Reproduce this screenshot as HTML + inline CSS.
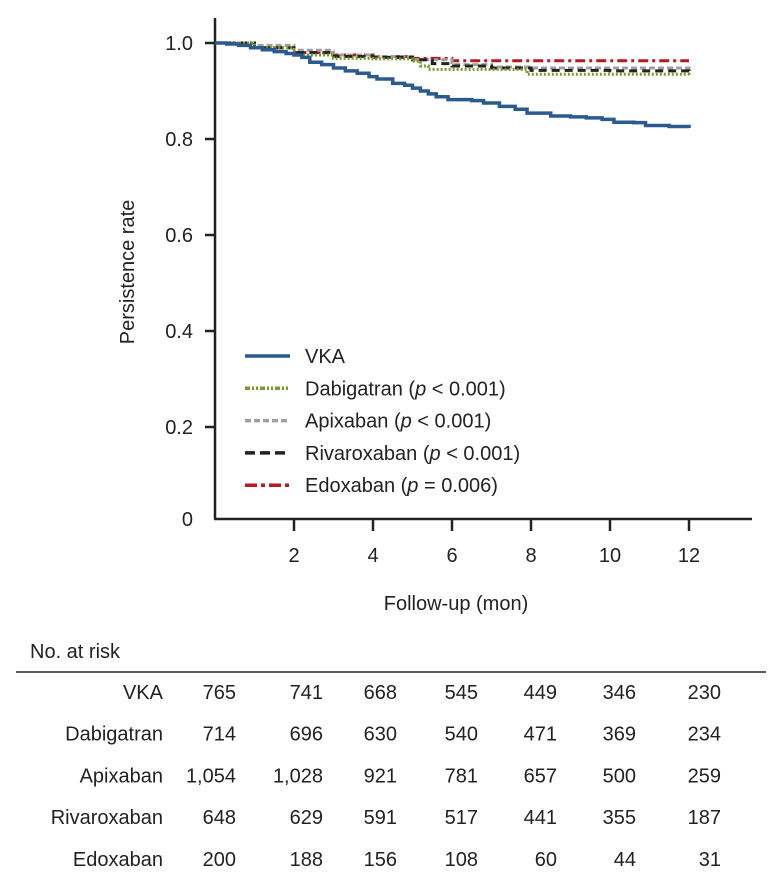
<!DOCTYPE html>
<html><head><meta charset="utf-8"><style>
body{margin:0;background:#fff;width:782px;height:892px;overflow:hidden;font-family:"Liberation Sans",sans-serif;}
svg{position:absolute;left:0;top:0}
text{font-family:"Liberation Sans",sans-serif;fill:#222}
</style></head><body>
<svg id="chart" width="782" height="892"></svg>
<script>
const xTicks=[2,4,6,8,10,12];
const yTicks=[0,0.2,0.4,0.6,0.8,1.0];
const yTickLabels=["0","0.2","0.4","0.6","0.8","1.0"];
const vkaM=[0,0.3,0.6,0.9,1.2,1.5,1.8,2.0,2.2,2.4,2.7,3.0,3.3,3.6,3.9,4.1,4.5,4.8,5.0,5.2,5.4,5.6,5.9,6.5,6.8,7.2,7.6,7.9,8.5,9.0,9.4,9.8,10.1,10.6,10.9,11.5,12];
const vkaV=[1,0.998,0.995,0.99,0.986,0.982,0.978,0.975,0.97,0.96,0.955,0.948,0.942,0.937,0.93,0.925,0.916,0.912,0.906,0.9,0.894,0.888,0.882,0.88,0.875,0.868,0.862,0.854,0.848,0.846,0.844,0.841,0.835,0.834,0.828,0.826,0.823];
const dabM=[0,1,2,3,4,5,5.2,5.4,7.9,12];
const dabV=[1,0.99,0.975,0.968,0.967,0.962,0.952,0.945,0.935,0.932];
const apiM=[0,1,2,3,4,5,6,7,8,12];
const apiV=[1,0.995,0.985,0.975,0.972,0.965,0.955,0.95,0.948,0.945];
const rivM=[0,1,2,3,4,5,5.5,6,7,8,10,12];
const rivV=[1,0.99,0.98,0.972,0.97,0.965,0.957,0.952,0.948,0.943,0.942,0.937];
const edoM=[0,1,2,3,4,5,6,12];
const edoV=[1,0.99,0.98,0.975,0.972,0.968,0.963,0.963];
const riskRows=["VKA","Dabigatran","Apixaban","Rivaroxaban","Edoxaban"];
const riskVKA=["765","741","668","545","449","346","230"];
const riskDab=["714","696","630","540","471","369","234"];
const riskApi=["1,054","1,028","921","781","657","500","259"];
const riskRiv=["648","629","591","517","441","355","187"];
const riskEdo=["200","188","156","108","60","44","31"];

const NS="http://www.w3.org/2000/svg";
const svg=document.getElementById('chart');
const FS=20;
const X=m=>215+m*39.5;
const Y=v=>523-v*480;
function mk(tag,attrs,parent){const e=document.createElementNS(NS,tag);for(const k in attrs)e.setAttribute(k,attrs[k]);(parent||svg).appendChild(e);return e;}
function txt(s,x,y,anchor,size,parent){const t=mk('text',{x:x,y:y,'text-anchor':anchor,'font-size':size||FS},parent);t.textContent=s;return t;}

let a=mk('line',{x1:215,y1:18,x2:215,y2:519,stroke:'#222','stroke-width':2.5});


a=mk('line',{x1:214,y1:519,x2:752,y2:519,stroke:'#222','stroke-width':2.5});


yTicks.forEach((v,i)=>{
  if(v>0)mk('line',{x1:205,y1:Y(v),x2:215,y2:Y(v),stroke:'#222','stroke-width':2.5});
  const t=txt(yTickLabels[i],193,(v>0?Y(v):519)+7,'end',FS);
  
  
});
xTicks.forEach(m=>{
  mk('line',{x1:X(m),y1:519,x2:X(m),y2:531,stroke:'#222','stroke-width':2.5});
  const t=txt(String(m),X(m),562,'middle',FS);
  
  
});
let t=txt('Persistence rate',0,0,'middle',FS);
t.setAttribute('transform','translate(134,272) rotate(-90)');


t=txt('Follow-up (mon)',456,610,'middle',FS);



function stepPath(ms,vs){let d='M'+X(ms[0])+','+Y(vs[0]);for(let i=1;i<ms.length;i++){d+=' H'+X(ms[i])+' V'+Y(vs[i]);}return d;}
const series=[
 {n:'edoxaban',m:edoM,v:edoV,c:'#b01c22',w:3,dash:'10,4,3,4'},
 {n:'apixaban',m:apiM,v:apiV,c:'#a0a0a0',w:3,dash:'6,3'},
 {n:'rivaroxaban',m:rivM,v:rivV,c:'#222',w:3,dash:'8,5'},
 {n:'dabigatran',m:dabM,v:dabV,c:'#7a9a2e',w:3,dash:'2,2'},
 {n:'vka',m:vkaM,v:vkaV,c:'#2b5a8e',w:3.5,dash:''}
];
series.forEach(s=>{
  const p=mk('path',{d:stepPath(s.m,s.v),fill:'none',stroke:s.c,'stroke-width':s.w,'stroke-dasharray':s.dash});
  
  
});
const leg=[
 ['VKA','#2b5a8e','',null],
 ['Dabigatran','#7a9a2e','5,2,2,2,2,2','< 0.001'],
 ['Apixaban','#a0a0a0','6,3','< 0.001'],
 ['Rivaroxaban','#222','10,5','< 0.001'],
 ['Edoxaban','#b01c22','12,4,4,4','= 0.006']
];
leg.forEach((l,i)=>{
  const y=356+i*32.3;
  const g=mk('g',{});
  
  
  mk('line',{x1:245,y1:y,x2:290,y2:y,stroke:l[1],'stroke-width':3.5,'stroke-dasharray':l[2]},g);
  const tt=mk('text',{x:305,y:y+7,'font-size':FS},g);
  tt.textContent=l[0]+(l[3]?' (':'');
  if(l[3]){const ts=mk('tspan',{'font-style':'italic'},tt);ts.textContent='p';const t2=mk('tspan',{},tt);t2.textContent=' '+l[3]+')';}
});
t=txt('No. at risk',30,658,'start',FS);


a=mk('line',{x1:16,y1:672,x2:766,y2:672,stroke:'#222','stroke-width':1.5});


const riskData=[riskVKA,riskDab,riskApi,riskRiv,riskEdo];
const colX=[236,323,397,478,557,636,721];
riskRows.forEach((r,i)=>{
  const y=699+i*41.7;
  const lb=txt(r,163,y,'end',FS);
  
  
  riskData[i].forEach((v,j)=>{const c=txt(v,colX[j],y,'end',FS);
    
    });
});
</script>
</body></html>
